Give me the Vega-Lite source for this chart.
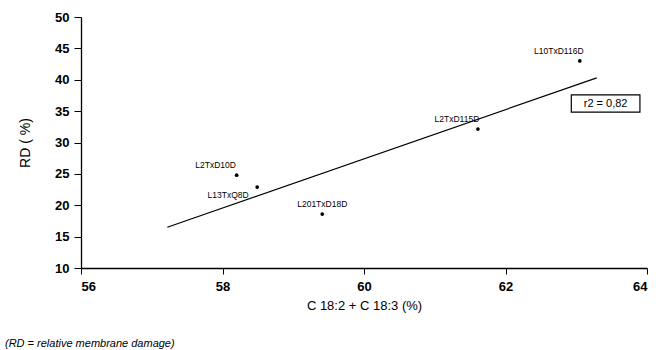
{
  "$schema": "https://vega.github.io/schema/vega-lite/v6.json",
  "autosize": "none",
  "width": 566,
  "height": 251,
  "padding": {"left": 81, "top": 17, "right": 21, "bottom": 82},
  "background": "white",
  "config": {
    "view": {"stroke": null},
    "font": "Liberation Sans",
    "axis": {"grid": false, "domainColor": "black", "tickColor": "black", "labelColor": "black", "titleColor": "black", "labelFont": "Liberation Sans", "titleFont": "Liberation Sans"}
  },
  "title": {
    "text": "(RD = relative membrane damage)",
    "orient": "bottom",
    "anchor": "start",
    "frame": "group",
    "dx": -76,
    "offset": 26,
    "fontStyle": "italic",
    "fontWeight": "normal",
    "fontSize": 11,
    "font": "Liberation Sans",
    "color": "black"
  },
  "datasets": {
    "pts": [
      {"x": 63.05, "y": 43.0, "label": "L10TxD116D", "pos": "left"},
      {"x": 61.61, "y": 32.15, "label": "L2TxD115D", "pos": "left"},
      {"x": 58.2, "y": 24.8, "label": "L2TxD10D", "pos": "left"},
      {"x": 58.49, "y": 22.9, "label": "L13TxQ8D", "pos": "below"},
      {"x": 59.41, "y": 18.6, "label": "L201TxD18D", "pos": "above"}
    ],
    "fit": [
      {"x": 57.22, "y": 16.5},
      {"x": 63.29, "y": 40.3}
    ],
    "note": [
      {"x": 62.93, "x2": 63.9, "y": 37.6, "y2": 34.85, "xm": 63.415, "ym": 36.2, "text": "r2 = 0,82"}
    ]
  },
  "encoding": {
    "x": {"field": "x", "type": "quantitative", "scale": {"domain": [56, 64], "zero": false, "nice": false},
      "axis": {"values": [56, 58, 60, 62, 64], "format": "d", "title": "C 18:2 + C 18:3 (%)", "titleFontSize": 13, "titleFontWeight": "normal", "titlePadding": 6, "labelFontSize": 13, "labelFontWeight": "bold", "tickSize": 6, "labelPadding": 6, "domainWidth": 1.3}},
    "y": {"field": "y", "type": "quantitative", "scale": {"domain": [10, 50], "zero": false, "nice": false},
      "axis": {"values": [10, 15, 20, 25, 30, 35, 40, 45, 50], "format": "d", "title": "RD ( %)", "titleFontSize": 14, "titleFontWeight": "normal", "titlePadding": 22, "labelFontSize": 13, "labelFontWeight": "bold", "tickSize": 7, "labelPadding": 5, "domainWidth": 1.3}}
  },
  "layer": [
    {
      "data": {"name": "fit"},
      "mark": {"type": "line", "color": "black", "strokeWidth": 1.2}
    },
    {
      "data": {"name": "pts"},
      "mark": {"type": "circle", "color": "black", "size": 14, "opacity": 1}
    },
    {
      "data": {"name": "pts"},
      "transform": [{"filter": "datum.pos == 'left'"}],
      "mark": {"type": "text", "fontSize": 8.5, "dy": -10, "dx": -21, "color": "black", "font": "Liberation Sans"},
      "encoding": {
        "text": {"field": "label"}
      }
    },
    {
      "data": {"name": "pts"},
      "transform": [{"filter": "datum.pos == 'above'"}],
      "mark": {"type": "text", "fontSize": 8.5, "dy": -10, "dx": 0, "color": "black", "font": "Liberation Sans"},
      "encoding": {
        "text": {"field": "label"}
      }
    },
    {
      "data": {"name": "pts"},
      "transform": [{"filter": "datum.pos == 'below'"}],
      "mark": {"type": "text", "fontSize": 8.5, "dy": 8, "dx": -29, "color": "black", "font": "Liberation Sans"},
      "encoding": {
        "text": {"field": "label"}
      }
    },
    {
      "data": {"name": "note"},
      "mark": {"type": "rect", "fill": null, "stroke": "black", "strokeWidth": 1.2},
      "encoding": {
        "x2": {"field": "x2"},
        "y2": {"field": "y2"}
      }
    },
    {
      "data": {"name": "note"},
      "mark": {"type": "text", "fontSize": 11, "color": "black", "font": "Liberation Sans", "align": "center"},
      "encoding": {
        "x": {"field": "xm", "type": "quantitative"},
        "y": {"field": "ym", "type": "quantitative"},
        "text": {"field": "text"}
      }
    }
  ]
}
